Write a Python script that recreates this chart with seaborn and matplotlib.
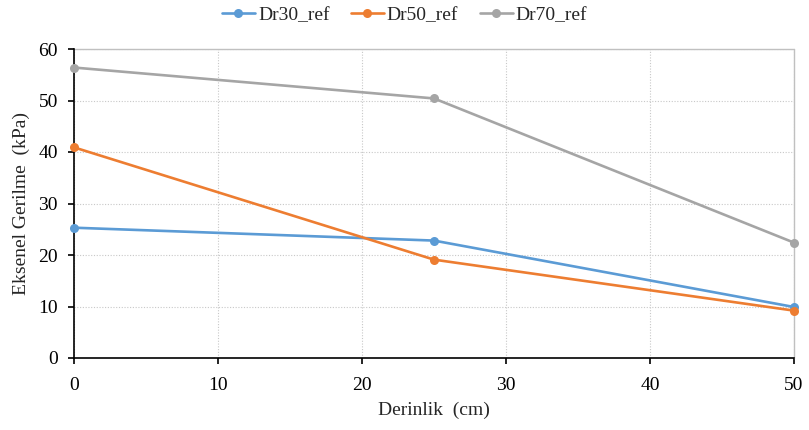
import matplotlib
matplotlib.use("Agg")
import matplotlib.pyplot as plt
import seaborn as sns
import pandas as pd

depth = [0, 25, 50]
dr30 = [25.3, 22.8, 9.9]
dr50 = [40.9, 19.1, 9.2]
dr70 = [56.4, 50.4, 22.4]
series_names = ["Dr30_ref", "Dr50_ref", "Dr70_ref"]
colors = ["#5B9BD5", "#ED7D31", "#A5A5A5"]

df = pd.DataFrame({
    "Derinlik": depth * 3,
    "Gerilme": dr30 + dr50 + dr70,
    "Seri": [s for s in series_names for _ in depth],
})

sns.set_style("white")
plt.rcParams["font.family"] = ["Liberation Serif", "DejaVu Serif"]

fig = plt.figure(figsize=(8.09, 4.30), dpi=100)
ax = fig.add_axes([74 / 809, 1 - 358 / 430, 720 / 809, 309 / 430])

sns.lineplot(data=df, x="Derinlik", y="Gerilme", hue="Seri", palette=colors,
             marker="o", markersize=6.5, markeredgewidth=0, linewidth=1.9, ax=ax,
             zorder=3, clip_on=False)

ax.set_xlim(0, 50)
ax.set_ylim(0, 60)
ax.set_xticks(range(0, 51, 10))
ax.set_yticks(range(0, 61, 10))
ax.grid(True, color="#C8C8C8", linestyle=(0, (1, 1.5)), linewidth=0.8)
for s in ["top", "right"]:
    ax.spines[s].set_visible(False)
for s in ["left", "bottom"]:
    ax.spines[s].set_color("black")
    ax.spines[s].set_linewidth(1.2)
    ax.spines[s].set_zorder(2.5)
ax.plot([0, 50], [60, 60], color="#C0C0C0", linewidth=1, clip_on=False, zorder=1)
ax.plot([50, 50], [0, 60], color="#C0C0C0", linewidth=1, clip_on=False, zorder=1)

ax.tick_params(axis="both", direction="out", length=4.5, width=1.2, pad=7,
               labelsize=14, colors="black", bottom=True, left=True)
ax.tick_params(axis="x", pad=9)
ax.set_xlabel("Derinlik  (cm)", fontsize=14, labelpad=6)
ax.set_ylabel("Eksenel Gerilme  (kPa)", fontsize=14, labelpad=6)

handles, labels = ax.get_legend_handles_labels()
ax.get_legend().remove()
fig.legend(handles, labels, loc="center", bbox_to_anchor=(0.5, 1 - 15 / 430),
           ncol=3, frameon=False, fontsize=14, handlelength=1.7,
           columnspacing=1.1, handletextpad=0.15)

fig.savefig("out.png", dpi=100)
